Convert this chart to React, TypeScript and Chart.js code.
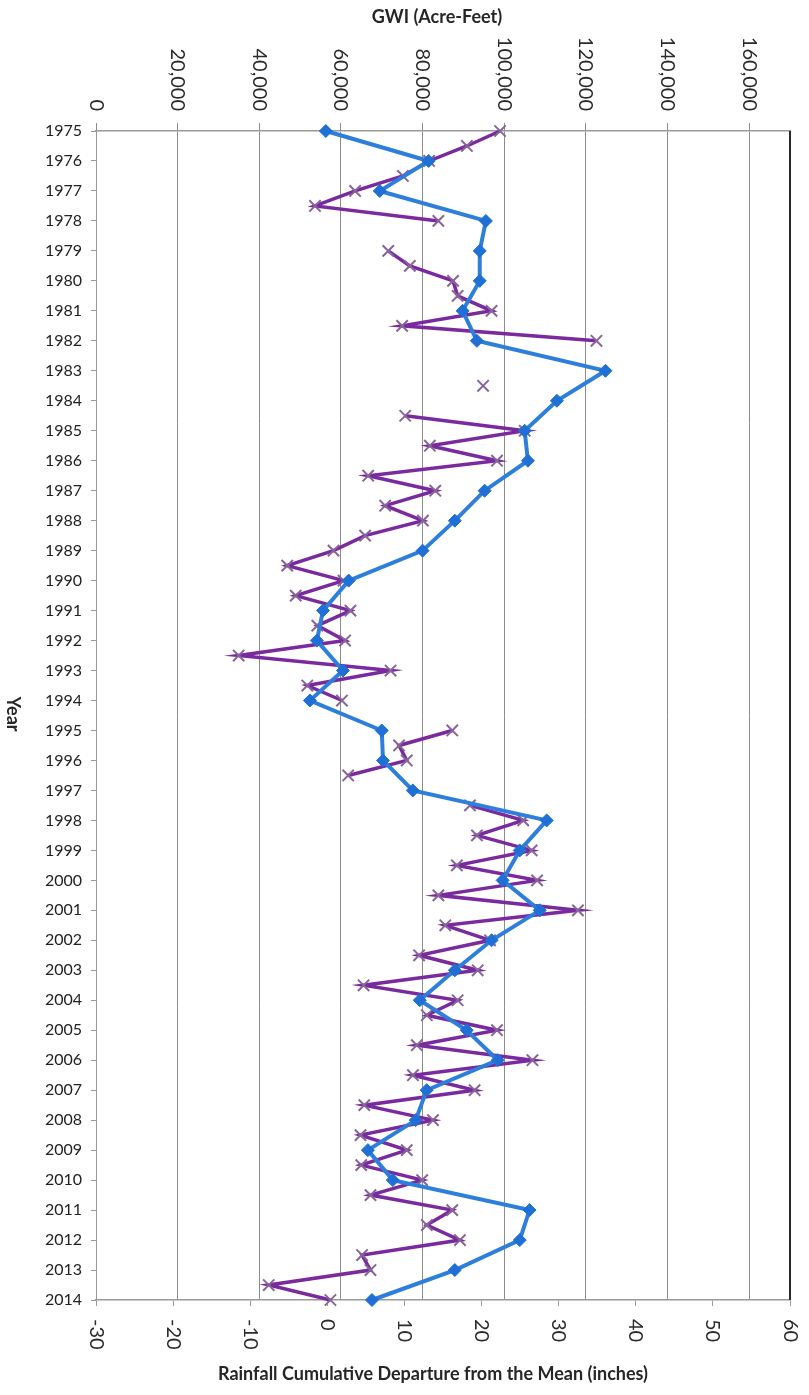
import React, { useEffect, useRef } from "react";
import { Chart, registerables } from "chart.js";

Chart.register(...registerables);

// Years (category axis, top to bottom)
const years: number[] = Array.from({ length: 40 }, (_, i) => 1975 + i);

// GWI (Acre-Feet), one value per year (top axis)
const gwiValues: number[] = [
  56300, 81500, 69500, 95500, 94000, 94000, 89800, 93300, 124800, 112900,
  105000, 105800, 95200, 87900, 80000, 61900, 55600, 54100, 60500, 52400,
  70000, 70300, 77600, 110400, 103800, 99600, 108700, 96900, 87900, 79300,
  90800, 98400, 81000, 78300, 66600, 72700, 106200, 103800, 87900, 67600,
];

// Rainfall cumulative departure (inches), start of each year 1975..2014
const rainStartOfYear: (number | null)[] = [
  22.4, 13.2, 3.6, 14.4, 7.9, 16.3, 21.3, 34.9, null, null,
  25.6, 22.0, 14.0, 12.4, 0.8, 2.1, 3.0, 2.3, 8.2, 1.9,
  16.2, 10.3, null, 25.4, 26.5, 27.2, 32.5, 21.1, 19.5, 16.9,
  22.0, 26.6, 19.1, 13.7, 10.3, 12.3, 16.2, 17.2, 5.6, 0.4,
];

// Rainfall cumulative departure (inches), mid-year 1975.5..2013.5
const rainMidYear: (number | null)[] = [
  18.1, 9.8, -1.6, null, 10.7, 16.9, 9.7, null, 20.2, 10.1,
  13.3, 5.3, 7.5, 4.9, -5.2, -4.1, -1.3, -11.5, -2.6, null,
  9.3, 2.7, 18.5, 19.4, 16.8, 14.4, 15.3, 11.9, 4.7, 12.9,
  11.6, 11.1, 4.8, 4.3, 4.4, 5.6, 12.9, 4.5, -7.6,
];

// Tick values
const gwiTicks: number[] = [0, 20000, 40000, 60000, 80000, 100000, 120000, 140000, 160000];
const rainTicks: number[] = [-30, -20, -10, 0, 10, 20, 30, 40, 50, 60];

const topTitle = "GWI (Acre-Feet)";
const bottomTitle = "Rainfall Cumulative Departure from the Mean (inches)";
const yTitle = "Year";

const W = 809;
const H = 1395;

const axisTextPlugin = {
  id: "axisText",
  afterDraw(chart: any) {
    const ctx: CanvasRenderingContext2D = chart.ctx;
    const area = chart.chartArea;
    const xTop = chart.scales.x2;
    const xBot = chart.scales.x;
    ctx.save();
    // right dark border
    ctx.strokeStyle = "#2a2a2a";
    ctx.lineWidth = 2;
    ctx.beginPath();
    ctx.moveTo(area.right, area.top);
    ctx.lineTo(area.right, area.bottom);
    ctx.stroke();

    ctx.fillStyle = "#2b2b2b";
    ctx.font = "20px Lato";
    ctx.textBaseline = "middle";
    // top tick labels (rotated clockwise, ending near the axis)
    xTop.ticks.forEach((t: any) => {
      const px = xTop.getPixelForValue(t.value);
      ctx.save();
      ctx.translate(px, area.top - 20);
      ctx.rotate(Math.PI / 2);
      ctx.textAlign = "right";
      ctx.fillText(Number(t.value).toLocaleString("en-US"), 0, 0);
      ctx.restore();
    });
    // bottom tick labels (rotated clockwise, starting near the axis)
    xBot.ticks.forEach((t: any) => {
      const px = xBot.getPixelForValue(t.value);
      ctx.save();
      ctx.translate(px, area.bottom + 19);
      ctx.rotate(Math.PI / 2);
      ctx.textAlign = "left";
      ctx.fillText(String(t.value), 0, 0);
      ctx.restore();
    });

    // titles
    ctx.font = "bold 18px Lato";
    ctx.fillStyle = "#262626";
    ctx.textAlign = "center";
    ctx.fillText(topTitle, 437, 17);
    ctx.fillText(bottomTitle, 433, 1374);
    ctx.save();
    ctx.translate(13, 714);
    ctx.rotate(Math.PI / 2);
    ctx.fillText(yTitle, 0, 0);
    ctx.restore();
    ctx.restore();
  },
};

export default function App() {
  const canvasRef = useRef<HTMLCanvasElement | null>(null);

  useEffect(() => {
    const canvas = canvasRef.current;
    if (!canvas) return;

    const gwiData = years.map((y, i) => ({ x: gwiValues[i], y }));
    const rainData: { x: number | null; y: number }[] = [];
    years.forEach((y, i) => {
      rainData.push({ x: rainStartOfYear[i], y });
      if (i < rainMidYear.length) rainData.push({ x: rainMidYear[i], y: y + 0.5 });
    });

    Chart.defaults.font.family = "Lato";

    const chart = new Chart(canvas, {
      type: "scatter",
      data: {
        datasets: [
          {
            label: "GWI",
            data: gwiData as any,
            xAxisID: "x2",
            yAxisID: "y",
            showLine: true,
            borderColor: "#2e7fdc",
            borderWidth: 4,
            backgroundColor: "#1f6fd4",
            pointStyle: "rectRot",
            pointRadius: 6.5,
            pointBackgroundColor: "#1f6fd4",
            pointBorderColor: "#1f6fd4",
            pointBorderWidth: 1,
            clip: false as any,
          },
          {
            label: "Rainfall",
            data: rainData as any,
            xAxisID: "x",
            yAxisID: "y",
            showLine: true,
            spanGaps: false,
            borderColor: "#7a2a9f",
            borderWidth: 3.5,
            backgroundColor: "#7a2a9f",
            pointStyle: "crossRot",
            pointRadius: 8,
            pointBorderColor: "#87659a",
            pointBorderWidth: 2,
            clip: false as any,
          },
        ],
      },
      options: {
        animation: false,
        responsive: false,
        devicePixelRatio: 1,
        layout: { padding: { left: 0, right: 19, top: 0, bottom: 0 } },
        plugins: {
          legend: { display: false },
          tooltip: { enabled: false },
        },
        scales: {
          y: {
            type: "linear",
            position: "left",
            reverse: true,
            min: 1975,
            max: 2014,
            afterFit: (s: any) => {
              s.width = 96;
            },
            ticks: {
              stepSize: 1,
              autoSkip: false,
              padding: 9,
              color: "#222",
              font: { family: "Lato", size: 16 },
              callback: (v: any) => String(v),
            },
            grid: {
              drawOnChartArea: false,
              drawTicks: true,
              tickLength: 5,
              color: "#9a9a9a",
            },
            border: { display: true, color: "#9a9a9a", width: 1 },
          },
          x2: {
            type: "linear",
            position: "top",
            min: 0,
            max: 170000,
            afterFit: (s: any) => {
              s.height = 131;
            },
            afterBuildTicks: (s: any) => {
              s.ticks = gwiTicks.map((v) => ({ value: v }));
            },
            ticks: {
              display: false,
            },
            grid: {
              drawOnChartArea: true,
              drawTicks: true,
              tickLength: 8,
              color: "#8c8c8c",
              lineWidth: 1,
            },
            border: { display: true, color: "#9a9a9a", width: 1.5 },
          },
          x: {
            type: "linear",
            position: "bottom",
            min: -30,
            max: 60,
            afterFit: (s: any) => {
              s.height = 95;
            },
            afterBuildTicks: (s: any) => {
              s.ticks = rainTicks.map((v) => ({ value: v }));
            },
            ticks: {
              display: false,
            },
            grid: {
              drawOnChartArea: false,
              drawTicks: true,
              tickLength: 6,
              color: "#9a9a9a",
            },
            border: { display: true, color: "#9a9a9a", width: 1.5 },
          },
        },
      } as any,
      plugins: [axisTextPlugin],
    });

    return () => {
      chart.destroy();
    };
  }, []);

  return (
    <div style={{ position: "absolute", left: 0, top: 0, width: W, height: H, background: "#fff" }}>
      <canvas ref={canvasRef} width={W} height={H} style={{ width: W, height: H, display: "block" }} />
    </div>
  );
}
